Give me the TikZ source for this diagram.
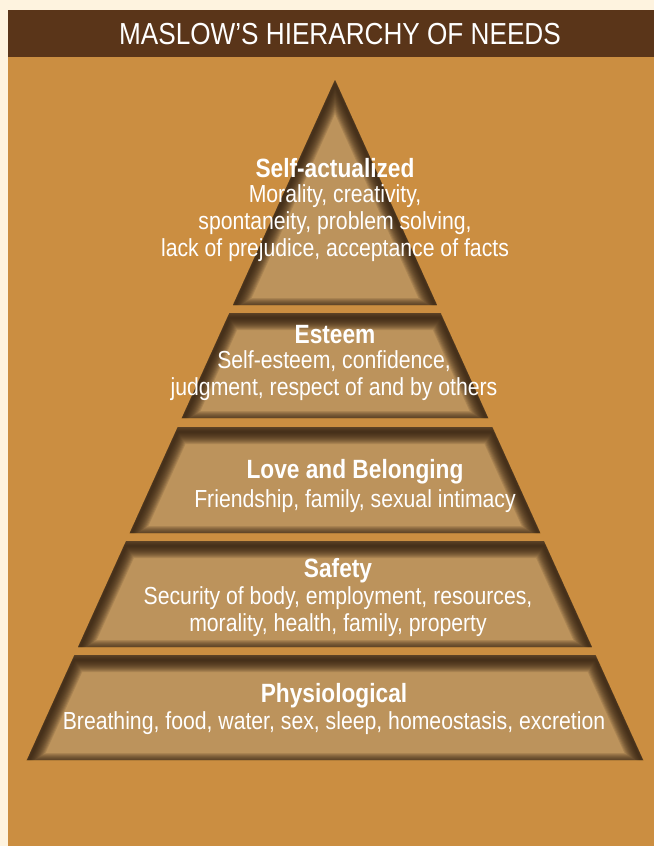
\documentclass[tikz,border=0pt]{standalone}
\usepackage{fontspec}
\setmainfont{Liberation Sans}[FakeStretch=0.86]
\usepackage{tikz}
\usetikzlibrary{positioning}

\definecolor{cream}{HTML}{FEF3DF}
\definecolor{panel}{HTML}{CB8E41}
\definecolor{titlebar}{HTML}{5A3519}
\definecolor{tierfill}{HTML}{BC935C}
\definecolor{tiershade}{HTML}{2E1D0E}

\begin{document}
\begin{tikzpicture}[
    x=0.75pt, y=-0.75pt,
    heading/.style={text=white, font=\fontsize{19.8}{22}\selectfont\bfseries},
    body/.style={text=white, align=center, font=\fontsize{18.5}{20.25}\selectfont},
    shade/.style={draw=tiershade, line join=round, opacity=0.13}
]

\useasboundingbox (0,0) rectangle (654,846);

% Background and panel
\fill[cream] (0,0) rectangle (654,846);
\fill[panel] (8,10) rectangle (654,846);
\fill[titlebar] (8,10) rectangle (654,57);

% Title
\node[text=white, font=\fontsize{22.8}{26}\selectfont] (title) at (340,34) {MASLOW'S HIERARCHY OF NEEDS};

% Pyramid tiers with inner shadow
\foreach \yt/\yb in {80/305, 313/418, 427/533, 541/647, 655/760} {
    \pgfmathsetmacro\wt{0.453*(\yt-80)}
    \pgfmathsetmacro\wb{0.453*(\yb-80)}
    \begin{scope}
        \clip (335-\wt,\yt) -- (335+\wt,\yt) -- (335+\wb,\yb) -- (335-\wb,\yb) -- cycle;
        \fill[tierfill] (0,\yt) rectangle (654,\yb);
        \foreach \w in {2,4,...,24}
            \draw[shade, line width=\w*0.75pt] (335-\wt,\yt+5) -- (335+\wt,\yt+5) -- (335+\wb,\yb+5) -- (335-\wb,\yb+5) -- cycle;
    \end{scope}
}

% Self-actualized
\node[heading] (selfact) at (335,168) {Self-actualized};
\node[body] (selfacttext) at (335,223) {Morality, creativity,\\spontaneity, problem solving,\\lack of prejudice, acceptance of facts};

% Esteem
\node[heading] (esteem) at (335,335) {Esteem};
\node[body] (esteemtext) at (334,376) {Self-esteem, confidence,\\judgment, respect of and by others};

% Love and Belonging
\node[heading] (love) at (355,472) {Love and Belonging};
\node[body] (lovetext) at (355,501) {Friendship, family, sexual intimacy};

% Safety
\node[heading] (safety) at (338,571) {Safety};
\node[body] (safetytext) at (338,612) {Security of body, employment, resources,\\morality, health, family, property};

% Physiological
\node[heading] (physio) at (334,696) {Physiological};
\node[body] (physiotext) at (334,723) {Breathing, food, water, sex, sleep, homeostasis, excretion};

\end{tikzpicture}
\end{document}
